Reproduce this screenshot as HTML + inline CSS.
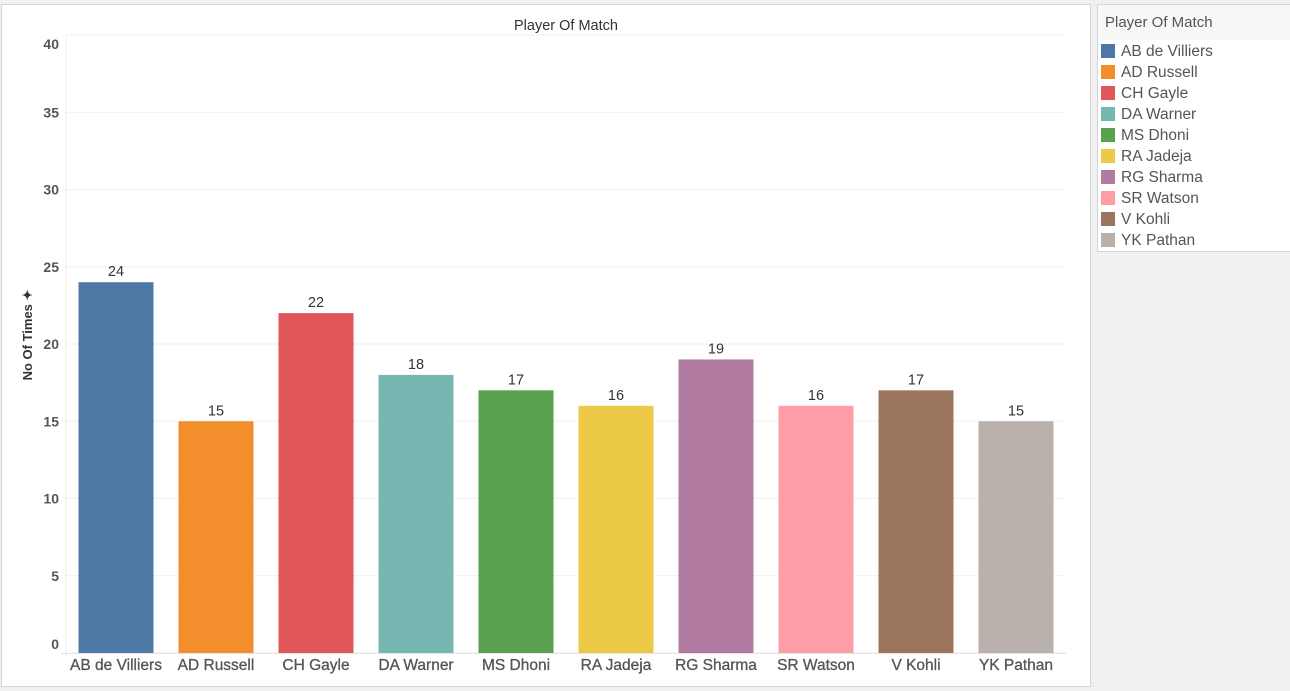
<!DOCTYPE html>
<html><head><meta charset="utf-8"><style>
body{margin:0;width:1290px;height:691px;background:#f0f0f0;font-family:"Liberation Sans",sans-serif;overflow:hidden;position:relative}
#panel{position:absolute;left:1px;top:4px;width:1088px;height:681px;background:#fff;border:1px solid #d4d4d4}
#legend{position:absolute;left:1097px;top:4px;width:193px;height:246px;background:#fff;border:1px solid #d4d4d4;border-right:none}
#legend .t{height:35px;background:#f7f7f7;font-size:15px;color:#555;line-height:36px;padding-left:7px}
.le{position:absolute;left:3px;height:21px;font-size:15.5px;color:#555;line-height:21px}
.le span{display:inline-block;width:14px;height:14px;vertical-align:-2px;margin-right:6px}
</style></head><body>
<div id="panel"></div>
<svg id="chart" width="1090" height="691" style="position:absolute;left:0;top:0"></svg>
<div id="legend"><div class="t">Player Of Match</div></div>
<script>
const categories=["AB de Villiers","AD Russell","CH Gayle","DA Warner","MS Dhoni","RA Jadeja","RG Sharma","SR Watson","V Kohli","YK Pathan"];
const values=[24,15,22,18,17,16,19,16,17,15];
const colors=["#4e79a7","#f28e2b","#e15759","#76b7b2","#59a14f","#edc948","#b07aa1","#ff9da7","#9c755f","#bab0ac"];
const ticks=[0,5,10,15,20,25,30,35,40];
const NS="http://www.w3.org/2000/svg";
const svg=document.getElementById('chart');
const x0=66,x1=1066,yZero=653,yTop=35,yMax=40;
const y=v=>yZero-(v/yMax)*(yZero-yTop);
const band=(x1-x0)/categories.length;
const xc=i=>x0+band*(i+0.5);
function mk(t,a,txt){const e=document.createElementNS(NS,t);for(const k in a)e.setAttribute(k,a[k]);if(txt!==undefined)e.textContent=txt;svg.appendChild(e);return e;}
let e=mk('text',{x:566,y:30,'text-anchor':'middle','font-size':14.5,fill:'#333'},'Player Of Match');

ticks.forEach((t,k)=>{
 let g=mk('line',{x1:x0,x2:x1,y1:y(t),y2:y(t),stroke:'#efefef'});
 
 let off=5;
 if(k===0)off=-4;
 if(k===ticks.length-1)off=14;
 let l=mk('text',{x:59,y:y(t)+off,'text-anchor':'end','font-size':14,'font-weight':'bold',fill:'#555'},String(t));
 
});
mk('line',{x1:x0,x2:x0,y1:yTop,y2:yZero+5,stroke:'#efefef'});
let ax=mk('line',{x1:x0-5,x2:x1,y1:yZero+0.5,y2:yZero+0.5,stroke:'#e6e6e6'});

let yt=mk('text',{x:32,y:335,'text-anchor':'middle','font-size':13,'font-weight':'bold',fill:'#333',transform:'rotate(-90 32 335)'},'No Of Times ✦');

categories.forEach((c,i)=>{
 const w=75;
 let b=mk('rect',{x:xc(i)-w/2,y:y(values[i]),width:w,height:yZero-y(values[i]),fill:colors[i]});
 
 let v=mk('text',{x:xc(i),y:y(values[i])-6,'text-anchor':'middle','font-size':14.5,fill:'#333'},String(values[i]));
 
 let l=mk('text',{x:xc(i),y:670,'text-anchor':'middle','font-size':15.5,fill:'#555','stroke':'#555','stroke-width':0.3},c);
 
});
const lg=document.getElementById('legend');
categories.forEach((c,i)=>{
 const d=document.createElement('div');d.className='le';d.style.top=(36+i*21)+'px';
 d.innerHTML='<span style="background:'+colors[i]+'"></span>'+c;
 
 
 lg.appendChild(d);
});
</script>
</body></html>
